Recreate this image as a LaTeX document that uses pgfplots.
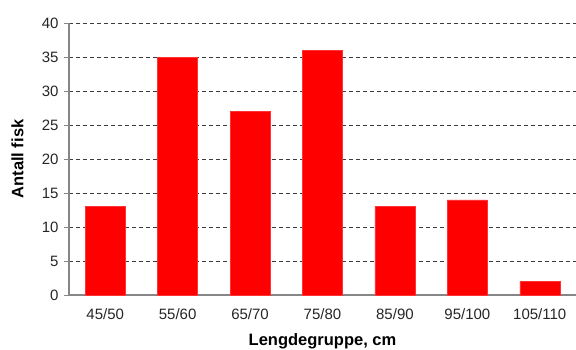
\documentclass[border=0pt]{standalone}
\usepackage{pgfplots}
\pgfplotsset{compat=1.18}
\usepackage{fontspec}
\setmainfont{Liberation Sans}
\definecolor{axisgray}{RGB}{134,134,134}
\definecolor{gridgray}{RGB}{60,60,60}
\begin{document}
\begin{tikzpicture}
\useasboundingbox (-69pt,-54pt) rectangle (507pt,295pt);
\begin{axis}[
  at={(0pt,0pt)}, anchor=south west,
  scale only axis,
  width=507pt, height=272pt,
  xmin=-0.5, xmax=6.5,
  ymin=0, ymax=40,
  ytick={0,5,...,40},
  xtick=data,
  xticklabels={45/50,55/60,65/70,75/80,85/90,95/100,105/110},
  axis x line=bottom, axis y line=left,
  axis line style={axisgray, line width=1.2pt, -},
  ymajorgrids,
  major grid style={gridgray, line width=0.9pt, dash pattern=on 4pt off 3pt},
  ytick style={axisgray, line width=1pt},
  xtick style={draw=none},
  tick align=outside,
  major tick length=5pt,
  tick label style={font=\fontsize{15}{17}\selectfont, text=black!85},
  /pgf/number format/assume math mode=true,
  yticklabel style={xshift=-2pt},
  xticklabel style={yshift=-5pt},
  xlabel={\textbf{Lengdegruppe, cm}},
  ylabel={\textbf{Antall fisk}},
  label style={font=\fontsize{16.5}{18}\selectfont, text=black},
  xlabel style={at={(axis description cs:0.5,0)}, anchor=north, yshift=-35pt},
  ylabel style={at={(axis description cs:0,0.5)}, anchor=south, yshift=42pt},
  clip=false,
]
\addplot[ybar, bar width=40pt, fill=red, draw=red!80!white, line width=0.5pt]
  coordinates {(0,13) (1,35) (2,27) (3,36) (4,13) (5,14) (6,2)};
\end{axis}
\end{tikzpicture}
\end{document}
